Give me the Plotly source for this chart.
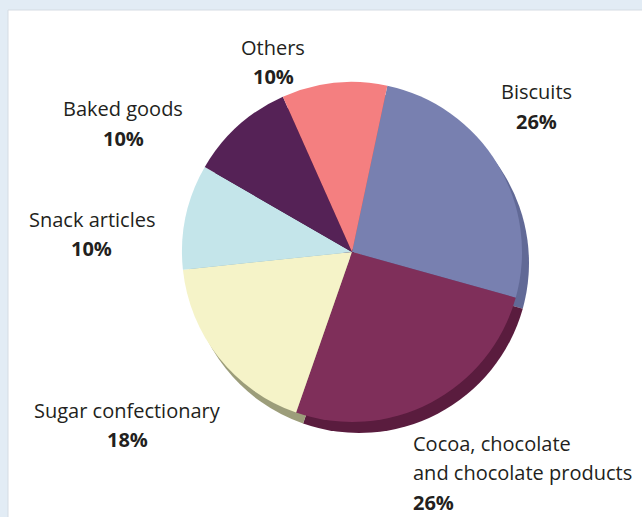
import plotly.graph_objects as go

# ---- data ----
categories = ["Biscuits", "Cocoa, chocolate\nand chocolate products", "Sugar confectionary",
              "Snack articles", "Baked goods", "Others"]
shares = [26, 26, 18, 10, 10, 10]
face_colors = ["#7880B0", "#7F2F5A", "#F5F3C8", "#C4E5EA", "#552256", "#F47F80"]
rim_colors = ["#616996", "#5A1C3E", "#9C9D7A", "#8FB0B5", "#3A1239", "#B55C5D"]

W, H = 642, 517
cx, cy, r = 352, 252, 170          # pie centre / radius in px
rim_dx, rim_dy = 7, 11             # depth offset of the rim

def dom(cxp, cyp, rad):
    return dict(x=[(cxp - rad) / W, (cxp + rad) / W],
                y=[(H - cyp - rad) / H, (H - cyp + rad) / H])

fig = go.Figure()
# rim (3D depth) layer
fig.add_trace(go.Pie(labels=categories, values=shares, sort=False, direction="clockwise",
                     rotation=12, marker=dict(colors=rim_colors, line=dict(width=0)),
                     textinfo="none", hoverinfo="skip", showlegend=False,
                     domain=dom(cx + rim_dx, cy + rim_dy, r)))
# top face
fig.add_trace(go.Pie(labels=categories, values=shares, sort=False, direction="clockwise",
                     rotation=12, marker=dict(colors=face_colors, line=dict(width=0)),
                     textinfo="none", showlegend=False,
                     domain=dom(cx, cy, r)))

# label placement (px): x, y of first line centre, anchor
label_pos = [(536, 92, "center"), (411, 443, "left"), (127, 410, "center"),
             (92, 219, "center"), (123, 109, "center"), (273, 47, "center")]
line_gap = 29.5
font_family = "Open Sans"
annotations = []
for name, val, (px, py, anc) in zip(categories, shares, label_pos):
    lines = name.split("\n") + [f"<b>{val}%</b>"]
    for i, t in enumerate(lines):
        annotations.append(dict(x=px / W, y=1 - (py + i * line_gap) / H, xref="paper", yref="paper",
                                text=t, showarrow=False, xanchor=anc, yanchor="middle",
                                font=dict(family=font_family, size=20, color="#231F20")))

shapes = [dict(type="rect", xref="paper", yref="paper", x0=8 / W, x1=1.01, y0=-0.01, y1=1 - 10 / H,
               fillcolor="white", line=dict(color="#D5DCE3", width=1), layer="below")]

fig.update_layout(width=W, height=H, margin=dict(l=0, r=0, t=0, b=0),
                  paper_bgcolor="#E2ECF5", plot_bgcolor="white",
                  shapes=shapes, annotations=annotations)

fig.write_html("out.html", config={"displayModeBar": False},
               post_script="document.body.style.margin='0px';"
                           "document.body.style.overflow='hidden';")
